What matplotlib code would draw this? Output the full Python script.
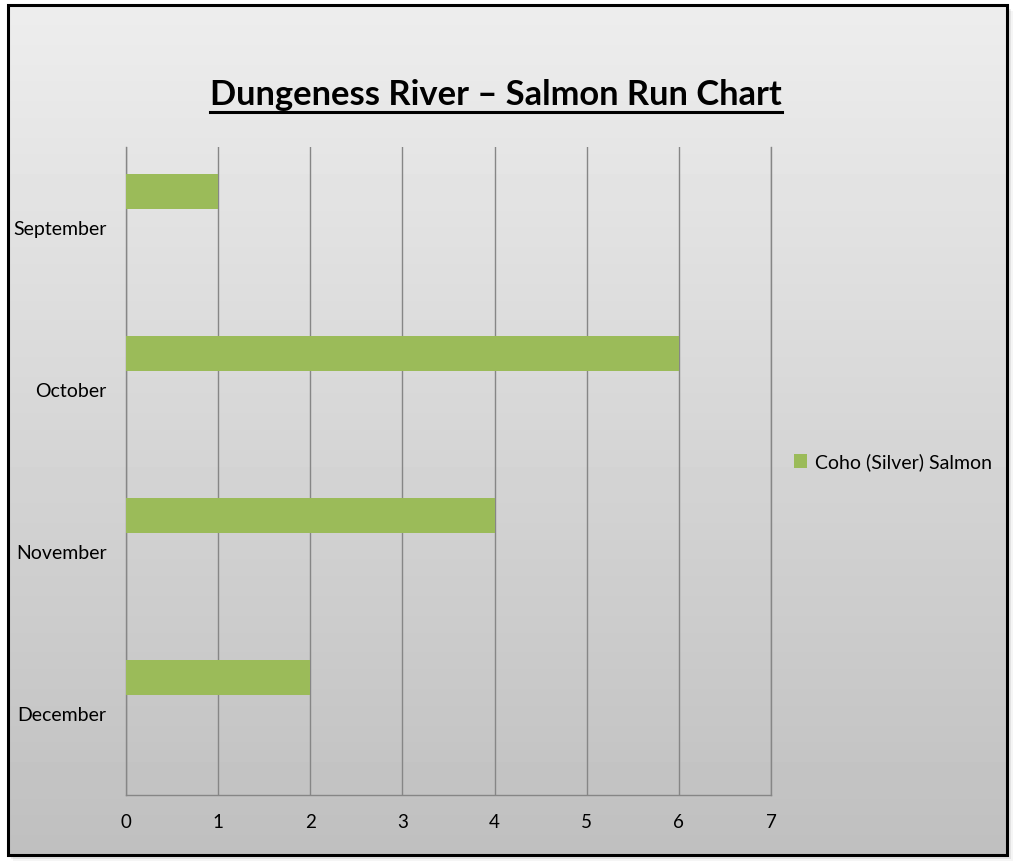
import numpy as np
import matplotlib
matplotlib.use("Agg")
import matplotlib.pyplot as plt
from matplotlib.patches import Rectangle

# Data
months = ["September", "October", "November", "December"]
coho = [1, 6, 4, 2]
series_name = "Coho (Silver) Salmon"
x_ticks = [0, 1, 2, 3, 4, 5, 6, 7]
title = "Dungeness River \u2013 Salmon Run Chart"

plt.rcParams['font.family'] = ['Lato', 'DejaVu Sans']

W, H = 1016, 866
fig = plt.figure(figsize=(W / 100, H / 100), dpi=100)

# background panel with gradient, border and shadow
bg = fig.add_axes([0, 0, 1, 1])
bg.axis("off")
for i, a in enumerate([0.10, 0.07, 0.04]):
    bg.add_patch(Rectangle((9 + 2 * i, 7 + 2 * i), 1000, 850, facecolor="black",
                           alpha=a, edgecolor="none", zorder=0))
grad = np.linspace(0.93, 0.75, 256).reshape(-1, 1)
bg.imshow(grad, cmap="gray", vmin=0, vmax=1, extent=[8, 1007, 855, 5],
          aspect="auto", zorder=1)
bg.add_patch(Rectangle((8, 5), 999, 850, fill=False, edgecolor="black",
                       linewidth=2.2, zorder=3))
bg.set_xlim(0, W)
bg.set_ylim(H, 0)

t = bg.text(496, 95, title, ha="center", va="center", fontsize=24.8,
            fontweight="bold", color="black", zorder=4)
fig.canvas.draw()
bb = t.get_window_extent().transformed(bg.transData.inverted())
bg.plot([bb.x0, bb.x1], [112, 112], color="black", linewidth=2.2, zorder=4)

# main plot
ax = fig.add_axes([126 / W, 1 - 795 / H, (771 - 126) / W, (795 - 147) / H])
ax.set_facecolor("none")
pos = np.arange(len(months))
ax.barh(pos - 0.225, coho, height=0.216, color="#9BBB59", label=series_name, zorder=3)
ax.set_xlim(0, 7)
ax.set_ylim(3.5, -0.5)
ax.set_xticks(x_ticks)
ax.set_xticklabels([str(v) for v in x_ticks])
ax.set_yticks(pos)
ax.set_yticklabels(months)
ax.tick_params(axis="x", length=0, pad=14, labelsize=13.5)
ax.tick_params(axis="y", length=0, pad=14, labelsize=14)
ax.grid(axis="x", color="#868686", linewidth=1)
ax.set_axisbelow(True)
ax.spines["top"].set_visible(False)
for s in ["left", "bottom", "right"]:
    ax.spines[s].set_color("#868686")
    ax.spines[s].set_linewidth(1)

h, l = ax.get_legend_handles_labels()
fig.legend(h, l, loc="center left", bbox_to_anchor=(776 / W, 1 - 462 / H),
           frameon=False, fontsize=14, handlelength=0.7, handleheight=0.7,
           handletextpad=0.4)

fig.savefig("out.png", dpi=100)
